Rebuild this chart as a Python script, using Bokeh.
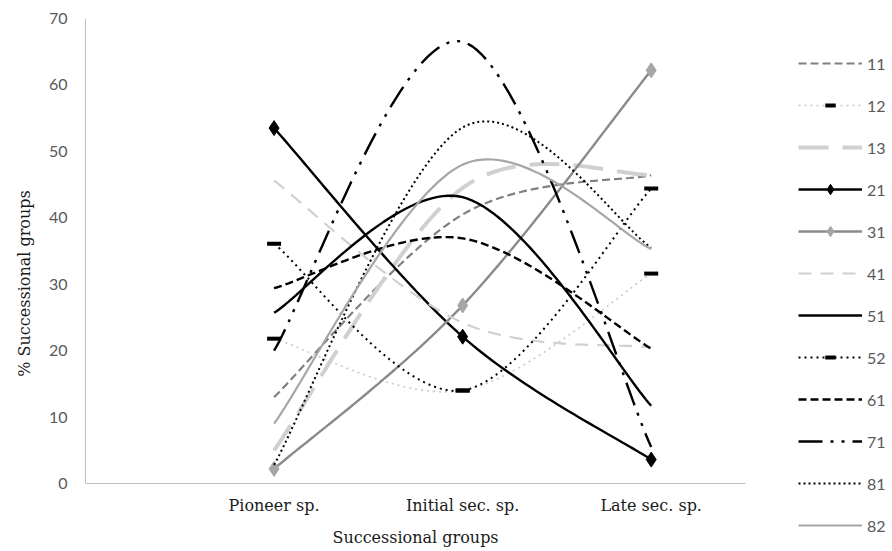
from bokeh.plotting import figure
from bokeh.models import Range1d, FixedTicker, Legend, LegendItem
from bokeh.embed import file_html
from bokeh.resources import INLINE

# ---- data ----
categories = ["Pioneer sp.", "Initial sec. sp.", "Late sec. sp."]
cat_index = [1, 2, 3]
series_names = ["11", "12", "13", "21", "31", "41", "51", "52", "61", "71", "81", "82"]
s11 = [13.0, 40.5, 46.4]
s12 = [21.8, 14.0, 31.6]
s13 = [5.0, 44.5, 46.5]
s21 = [53.5, 22.1, 3.6]
s31 = [2.2, 26.8, 62.2]
s41 = [45.6, 24.2, 20.5]
s51 = [25.7, 43.1, 11.7]
s52 = [36.1, 14.0, 44.4]
s61 = [29.4, 36.9, 20.3]
s71 = [20.0, 66.5, 5.5]
s81 = [2.8, 53.6, 35.5]
s82 = [9.0, 48.0, 35.3]
y_ticks = [0, 10, 20, 30, 40, 50, 60, 70]
values = [s11, s12, s13, s21, s31, s41, s51, s52, s61, s71, s81, s82]

# styles: color, width, dash, marker, marker color
styles = {
    "11": dict(color="#808080", width=2.2, dash="8 4", marker=None),
    "12": dict(color="#c8c8c8", width=1.6, dash="2 4", marker="dash", mcolor="#000000"),
    "13": dict(color="#d0d0d0", width=4.0, dash="30 14", marker=None),
    "21": dict(color="#000000", width=2.4, dash="solid", marker="diamond", mcolor="#000000"),
    "31": dict(color="#8a8a8a", width=2.4, dash="solid", marker="diamond", mcolor="#a6a6a6"),
    "41": dict(color="#d0d0d0", width=2.2, dash="13 9", marker=None),
    "51": dict(color="#000000", width=2.4, dash="solid", marker=None),
    "52": dict(color="#000000", width=2.0, dash="2 4", marker="dash", mcolor="#000000"),
    "61": dict(color="#000000", width=2.4, dash="8 4", marker=None),
    "71": dict(color="#000000", width=2.4, dash="24 8 3 8 3 8", marker=None),
    "81": dict(color="#000000", width=2.0, dash="2 3", marker=None),
    "82": dict(color="#a6a6a6", width=2.2, dash="solid", marker=None),
}


def smooth(xs, ys, n=40):
    # Excel-like smoothed line: cubic Bezier with Catmull-Rom tangents /6
    px = [xs[0]] + list(xs) + [xs[-1]]
    py = [ys[0]] + list(ys) + [ys[-1]]
    ox, oy = [], []
    for i in range(1, len(xs)):
        x0, y0 = px[i], py[i]
        x3, y3 = px[i + 1], py[i + 1]
        x1 = x0 + (px[i + 1] - px[i - 1]) / 6.0
        y1 = y0 + (py[i + 1] - py[i - 1]) / 6.0
        x2 = x3 - (px[i + 2] - px[i]) / 6.0
        y2 = y3 - (py[i + 2] - py[i]) / 6.0
        for k in range(n + 1):
            if i > 1 and k == 0:
                continue
            t = k / n
            a, b, c, d = (1 - t) ** 3, 3 * t * (1 - t) ** 2, 3 * t * t * (1 - t), t ** 3
            ox.append(a * x0 + b * x1 + c * x2 + d * x3)
            oy.append(a * y0 + b * y1 + c * y2 + d * y3)
    return ox, oy


# frame spans right/bottom to the canvas edge so the legend is not clipped;
# the x axis sits at y=0 and is bounded to the category span
X_END = 3.5
x_px_per_unit = 660 / X_END
y_px_per_unit = 465 / 70.0
p = figure(width=892, height=548,
           x_range=Range1d(0, 807 / x_px_per_unit),
           y_range=Range1d(-65 / y_px_per_unit, 70),
           output_backend="svg", toolbar_location=None,
           min_border_left=85, min_border_right=0, min_border_top=18, min_border_bottom=0)
p.outline_line_color = None
p.xgrid.visible = False
p.ygrid.visible = False

p.xaxis.ticker = FixedTicker(ticks=cat_index)
p.xaxis.major_label_overrides = {i: c for i, c in zip(cat_index, categories)}
p.xaxis.fixed_location = 0
p.xaxis.bounds = (0, X_END)
p.yaxis.ticker = FixedTicker(ticks=y_ticks)
p.yaxis.bounds = (0, 70)
for ax in (p.xaxis, p.yaxis):
    ax.axis_line_color = "#bfbfbf"
    ax.axis_line_width = 1
    ax.major_tick_line_color = None
    ax.minor_tick_line_color = None
    ax.major_tick_out = 0
    ax.major_tick_in = 0
    ax.axis_label_text_font = "DejaVu Serif"
    ax.axis_label_text_font_style = "normal"
    ax.axis_label_text_font_size = "16px"
    ax.axis_label_text_color = "#1a1a1a"
p.yaxis.major_label_text_font = "Lato"
p.yaxis.major_label_text_font_size = "16px"
p.yaxis.major_label_text_color = "#595959"
p.yaxis.major_label_standoff = 18
p.yaxis.axis_label = "% Successional groups"
p.yaxis.axis_label_standoff = 12
p.xaxis.major_label_text_font = "DejaVu Serif"
p.xaxis.major_label_text_font_size = "16px"
p.xaxis.major_label_text_color = "#1a1a1a"
p.xaxis.major_label_standoff = 12
p.xaxis.axis_label = "Successional groups"
p.xaxis.axis_label_standoff = 10

items = []
for name, vals in zip(series_names, values):
    st = styles[name]
    sx, sy = smooth(cat_index, vals)
    r = p.line(sx, sy, line_color=st["color"], line_width=st["width"], line_dash=st["dash"])
    rs = [r]
    if st["marker"] == "diamond":
        m = p.scatter(cat_index, vals, marker="diamond", size=15, fill_color=st["mcolor"],
                      line_color=st["mcolor"], line_width=1)
        rs.append(m)
    elif st["marker"] == "dash":
        m = p.scatter(cat_index, vals, marker="dash", size=14, line_color=st["mcolor"], line_width=4)
        rs.append(m)
    items.append(LegendItem(label=name, renderers=rs))

legend = Legend(items=items, location=(713, 10), padding=0, margin=0, spacing=16,
                glyph_width=64, glyph_height=26, label_height=26, label_standoff=5,
                label_text_font="Lato", label_text_font_size="16px", label_text_color="#595959",
                background_fill_alpha=0, border_line_color=None)
p.add_layout(legend, "center")

open("out.html", "w").write(file_html(p, INLINE))
